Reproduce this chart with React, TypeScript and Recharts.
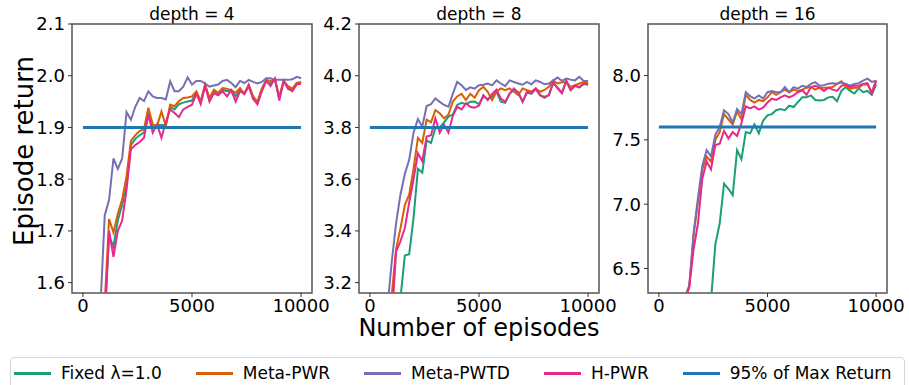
import React from "react"
import { LineChart, Line, XAxis, YAxis, ReferenceArea } from "recharts"

const EPISODES = [
  0, 200, 400, 600, 800, 1000, 1200, 1400, 1600, 1800,
  2000, 2200, 2400, 2600, 2800, 3000, 3200, 3400, 3600, 3800,
  4000, 4200, 4400, 4600, 4800, 5000, 5200, 5400, 5600, 5800,
  6000, 6200, 6400, 6600, 6800, 7000, 7200, 7400, 7600, 7800,
  8000, 8200, 8400, 8600, 8800, 9000, 9200, 9400, 9600, 9800,
  10000,
]

// depth = 4
const FIXED_D4 = [
  1.22, 1.28, 1.35, 1.41, 1.48, 1.54, 1.69, 1.67, 1.72, 1.75,
  1.795, 1.866, 1.878, 1.885, 1.89, 1.932, 1.9, 1.905, 1.905, 1.905,
  1.94, 1.935, 1.945, 1.948, 1.95, 1.952, 1.968, 1.948, 1.982, 1.955,
  1.97, 1.965, 1.973, 1.97, 1.972, 1.96, 1.973, 1.965, 1.982, 1.958,
  1.948, 1.973, 1.99, 1.985, 1.993, 1.956, 1.99, 1.978, 1.972, 1.985,
  1.987,
]
const PWR_D4 = [
  1.25, 1.3, 1.36, 1.42, 1.5, 1.56, 1.723, 1.697, 1.733, 1.761,
  1.806, 1.874, 1.885, 1.893, 1.897, 1.938, 1.906, 1.903, 1.931, 1.903,
  1.944, 1.941, 1.951, 1.957, 1.958, 1.96, 1.97, 1.951, 1.983, 1.957,
  1.973, 1.967, 1.976, 1.975, 1.972, 1.967, 1.976, 1.965, 1.983, 1.96,
  1.95, 1.975, 1.992, 1.99, 1.992, 1.96, 1.99, 1.98, 1.975, 1.986,
  1.988,
]
const PWTD_D4 = [
  1.3, 1.36, 1.42, 1.48, 1.55, 1.73, 1.76, 1.84, 1.82, 1.84,
  1.93, 1.915, 1.94, 1.957, 1.951, 1.97, 1.96, 1.957, 1.957, 1.954,
  1.989, 1.97, 1.97, 1.979, 1.997, 1.983, 1.99, 1.99, 1.985, 1.979,
  1.981, 1.983, 1.99, 1.992, 1.986, 1.978, 1.99, 1.986, 1.992, 1.988,
  1.985, 1.988, 1.995, 1.995, 1.992, 1.992, 1.992, 1.992, 1.993, 1.998,
  1.995,
]
const HPWR_D4 = [
  1.2, 1.27, 1.33, 1.4, 1.47, 1.52, 1.7, 1.65, 1.7, 1.72,
  1.78, 1.858, 1.866, 1.872, 1.88, 1.925, 1.89, 1.906, 1.88, 1.91,
  1.935, 1.928, 1.92, 1.935, 1.94, 1.944, 1.965, 1.945, 1.98, 1.95,
  1.966, 1.962, 1.97, 1.96, 1.972, 1.95, 1.97, 1.965, 1.98, 1.955,
  1.945, 1.97, 1.99, 1.98, 1.995, 1.952, 1.99, 1.975, 1.97, 1.983,
  1.985,
]

// depth = 8
const FIXED_D8 = [
  2.2, 2.3, 2.42, 2.55, 2.7, 2.85, 2.97, 3.14, 3.305, 3.31,
  3.45, 3.64, 3.625, 3.75, 3.74, 3.797, 3.8, 3.82, 3.842, 3.85,
  3.887, 3.895, 3.89, 3.899, 3.9, 3.89, 3.92, 3.91, 3.92, 3.94,
  3.9, 3.895, 3.93, 3.945, 3.935, 3.9, 3.935, 3.93, 3.948, 3.925,
  3.915, 3.925, 3.97, 3.955, 3.935, 3.978, 3.945, 3.96, 3.955, 3.968,
  3.965,
]
const PWR_D8 = [
  2.5, 2.6, 2.7, 2.82, 2.98, 3.15, 3.33, 3.41, 3.5, 3.54,
  3.64, 3.76, 3.74, 3.83, 3.82, 3.867, 3.855, 3.835, 3.85, 3.9,
  3.92, 3.93, 3.906, 3.93, 3.915, 3.944, 3.957, 3.938, 3.906, 3.938,
  3.951, 3.944, 3.951, 3.938, 3.925, 3.951, 3.944, 3.938, 3.951, 3.938,
  3.945, 3.957, 3.982, 3.97, 3.975, 3.976, 3.957, 3.963, 3.97, 3.976,
  3.97,
]
const PWTD_D8 = [
  2.6, 2.7, 2.8, 2.92, 3.1, 3.28, 3.43, 3.54, 3.62, 3.675,
  3.78, 3.833, 3.803, 3.883, 3.89, 3.912, 3.899, 3.887, 3.88, 3.93,
  3.976, 3.963, 3.945, 3.955, 3.95, 3.963, 3.965, 3.97, 3.963, 3.982,
  3.97, 3.96, 3.982, 3.976, 3.97, 3.965, 3.976, 3.967, 3.982, 3.976,
  3.967, 3.97, 3.982, 3.993, 3.98, 3.989, 3.985, 3.982, 3.996, 3.98,
  3.98,
]
const HPWR_D8 = [
  2.4, 2.5, 2.62, 2.75, 2.9, 3.05, 3.32, 3.36, 3.41, 3.51,
  3.6, 3.7, 3.67, 3.765, 3.77, 3.835, 3.78, 3.81, 3.78, 3.845,
  3.88, 3.87, 3.893, 3.88, 3.876, 3.885, 3.925, 3.906, 3.93, 3.946,
  3.912, 3.899, 3.93, 3.951, 3.935, 3.899, 3.938, 3.934, 3.951, 3.925,
  3.918, 3.925, 3.976, 3.951, 3.932, 3.982, 3.944, 3.963, 3.955, 3.97,
  3.966,
]

// depth = 16
const FIXED_D16 = [
  4.0, 4.2, 4.4, 4.6, 4.8, 5.0, 5.1, 5.2, 5.3, 5.45,
  5.6, 5.9, 6.25, 6.69, 6.85, 7.16, 7.12, 7.07, 7.42, 7.35,
  7.56, 7.55, 7.62, 7.55, 7.65, 7.69, 7.7, 7.73, 7.74, 7.73,
  7.765, 7.755, 7.793, 7.83, 7.83, 7.845, 7.81, 7.805, 7.81, 7.83,
  7.835, 7.8, 7.88, 7.91, 7.88, 7.86, 7.9, 7.87, 7.88, 7.85,
  7.93,
]
const PWR_D16 = [
  5.1, 5.3, 5.5, 5.7, 5.9, 6.1, 6.25, 6.36, 6.76, 7.02,
  7.27, 7.37, 7.33, 7.5, 7.56, 7.7, 7.66, 7.62, 7.72, 7.66,
  7.85, 7.81, 7.79, 7.81, 7.8, 7.83, 7.87, 7.85, 7.87, 7.89,
  7.87, 7.89, 7.88, 7.89, 7.905, 7.91, 7.89, 7.905, 7.905, 7.905,
  7.91, 7.935, 7.955, 7.915, 7.895, 7.905, 7.905, 7.93, 7.93, 7.87,
  7.96,
]
const PWTD_D16 = [
  5.2, 5.4, 5.6, 5.8, 6.0, 6.15, 6.28, 6.37, 6.78, 7.05,
  7.3, 7.42, 7.37, 7.54, 7.6, 7.73, 7.7, 7.635, 7.74, 7.7,
  7.87, 7.84, 7.82, 7.845, 7.82, 7.87, 7.88, 7.87, 7.87, 7.91,
  7.87, 7.91, 7.898, 7.92, 7.91, 7.935, 7.948, 7.92, 7.925, 7.935,
  7.94, 7.935, 7.945, 7.935, 7.92, 7.935, 7.94, 7.96, 7.975, 7.95,
  7.96,
]
const HPWR_D16 = [
  5.0, 5.2, 5.4, 5.6, 5.8, 6.0, 6.25, 6.36, 6.65, 6.85,
  7.2, 7.33, 7.27, 7.46, 7.47, 7.57, 7.51, 7.56, 7.53, 7.63,
  7.76, 7.745, 7.76, 7.735, 7.75, 7.79, 7.82, 7.81, 7.83, 7.845,
  7.83, 7.845, 7.87, 7.885, 7.85, 7.91, 7.92, 7.905, 7.88, 7.905,
  7.89, 7.88, 7.92, 7.93, 7.91, 7.92, 7.92, 7.935, 7.94, 7.86,
  7.96,
]

// 95% of max return per depth
const TARGETS = [1.9, 3.8, 7.6]

const X_TICKS = [0, 5000, 10000]
const Y_TICKS_D4 = [1.6, 1.7, 1.8, 1.9, 2.0, 2.1]
const Y_TICKS_D8 = [3.2, 3.4, 3.6, 3.8, 4.0, 4.2]
const Y_TICKS_D16 = [6.5, 7.0, 7.5, 8.0]

const SERIES = [
  { key: "fixed", name: "Fixed \u03bb=1.0", color: "#1b9e77" },
  { key: "pwr", name: "Meta-PWR", color: "#d95f02" },
  { key: "pwtd", name: "Meta-PWTD", color: "#7570b3" },
  { key: "hpwr", name: "H-PWR", color: "#e7298a" },
]
const TARGET_COLOR = "#1f77b4"

const X_DOMAIN: [number, number] = [-500, 10500]

function buildRows(fixed: number[], pwr: number[], pwtd: number[], hpwr: number[], target: number) {
  return EPISODES.map((ep, i) => ({
    ep,
    fixed: fixed[i],
    pwr: pwr[i],
    pwtd: pwtd[i],
    hpwr: hpwr[i],
    target,
  }))
}

const PANELS = [
  {
    title: "depth = 4",
    rows: buildRows(FIXED_D4, PWR_D4, PWTD_D4, HPWR_D4, TARGETS[0]),
    domain: [1.58, 2.1] as [number, number],
    ticks: Y_TICKS_D4,
    left: 12,
    plotWidth: 240,
  },
  {
    title: "depth = 8",
    rows: buildRows(FIXED_D8, PWR_D8, PWTD_D8, HPWR_D8, TARGETS[1]),
    domain: [3.16, 4.2] as [number, number],
    ticks: Y_TICKS_D8,
    left: 299,
    plotWidth: 240,
  },
  {
    title: "depth = 16",
    rows: buildRows(FIXED_D16, PWR_D16, PWTD_D16, HPWR_D16, TARGETS[2]),
    domain: [6.31, 8.4] as [number, number],
    ticks: Y_TICKS_D16,
    left: 588,
    plotWidth: 239,
  },
]

const Y_AXIS_W = 60
const TOP = 24
const CHART_H = 330
const X_AXIS_H = 37

function Panel({ title, rows, domain, ticks, left, plotWidth }: (typeof PANELS)[number]) {
  return (
    <div style={{ position: "absolute", left, top: 0 }}>
      <div
        style={{
          position: "absolute",
          left: Y_AXIS_W,
          width: plotWidth,
          top: 4,
          textAlign: "center",
          fontSize: 17,
          whiteSpace: "nowrap",
        }}
      >
        {title}
      </div>
      <LineChart
        width={Y_AXIS_W + plotWidth + 30}
        height={CHART_H}
        data={rows}
        margin={{ top: TOP, right: 30, bottom: 0, left: 0 }}
      >
        <XAxis
          dataKey="ep"
          type="number"
          domain={X_DOMAIN}
          ticks={X_TICKS}
          interval={0}
          allowDataOverflow
          height={X_AXIS_H}
          axisLine={false}
          tickSize={4}
          tickMargin={2}
          tick={{ fontSize: 18, fill: "#000" }}
          tickLine={{ stroke: "#333" }}
        />
        <YAxis
          type="number"
          domain={domain}
          ticks={ticks}
          interval={0}
          allowDataOverflow
          width={Y_AXIS_W}
          axisLine={false}
          tickSize={4}
          tickMargin={3}
          tick={{ fontSize: 18, fill: "#000" }}
          tickLine={{ stroke: "#333" }}
          tickFormatter={(v: number) => v.toFixed(1)}
        />
        <ReferenceArea
          x1={X_DOMAIN[0]}
          x2={X_DOMAIN[1]}
          y1={domain[0]}
          y2={domain[1]}
          fill="none"
          fillOpacity={0}
          stroke="#555"
          strokeWidth={1.5}
        />
        {SERIES.map((s) => (
          <Line
            key={s.key}
            dataKey={s.key}
            type="linear"
            stroke={s.color}
            strokeWidth={2}
            dot={false}
            isAnimationActive={false}
          />
        ))}
        <Line
          dataKey="target"
          type="linear"
          stroke={TARGET_COLOR}
          strokeWidth={3}
          dot={false}
          isAnimationActive={false}
        />
      </LineChart>
    </div>
  )
}

function LegendRow() {
  const items = [...SERIES.map((s) => ({ name: s.name, color: s.color })), { name: "95% of Max Return", color: TARGET_COLOR }]
  return (
    <div
      style={{
        position: "absolute",
        left: 10,
        top: 357,
        width: 895,
        height: 40,
        border: "1px solid #d6d6d6",
        borderRadius: 4,
        boxSizing: "border-box",
      }}
    >
      <div
        style={{
          position: "absolute",
          left: 3,
          top: 4,
          height: 22,
          display: "flex",
          alignItems: "center",
          gap: 34,
          fontSize: 17,
          whiteSpace: "nowrap",
        }}
      >
        {items.map((it) => (
          <div key={it.name} style={{ display: "flex", alignItems: "center", gap: 10 }}>
            <span style={{ display: "inline-block", width: 37, height: 3, background: it.color }} />
            <span>{it.name}</span>
          </div>
        ))}
      </div>
    </div>
  )
}

export default function App() {
  return (
    <div
      style={{
        position: "fixed",
        left: 0,
        top: 0,
        width: 909,
        height: 385,
        overflow: "hidden",
        background: "#fff",
        fontFamily: "'DejaVu Sans', sans-serif",
        color: "#000",
      }}
    >
      {PANELS.map((p) => (
        <Panel key={p.title} {...p} />
      ))}
      <div
        style={{
          position: "absolute",
          left: 24,
          top: 151,
          transform: "translate(-50%, -50%) rotate(-90deg)",
          fontSize: 26,
          lineHeight: "28px",
          whiteSpace: "nowrap",
        }}
      >
        Episode return
      </div>
      <div
        style={{
          position: "absolute",
          left: 479,
          top: 316,
          transform: "translateX(-50%)",
          fontSize: 24,
          lineHeight: "24px",
          whiteSpace: "nowrap",
        }}
      >
        Number of episodes
      </div>
      <LegendRow />
    </div>
  )
}
